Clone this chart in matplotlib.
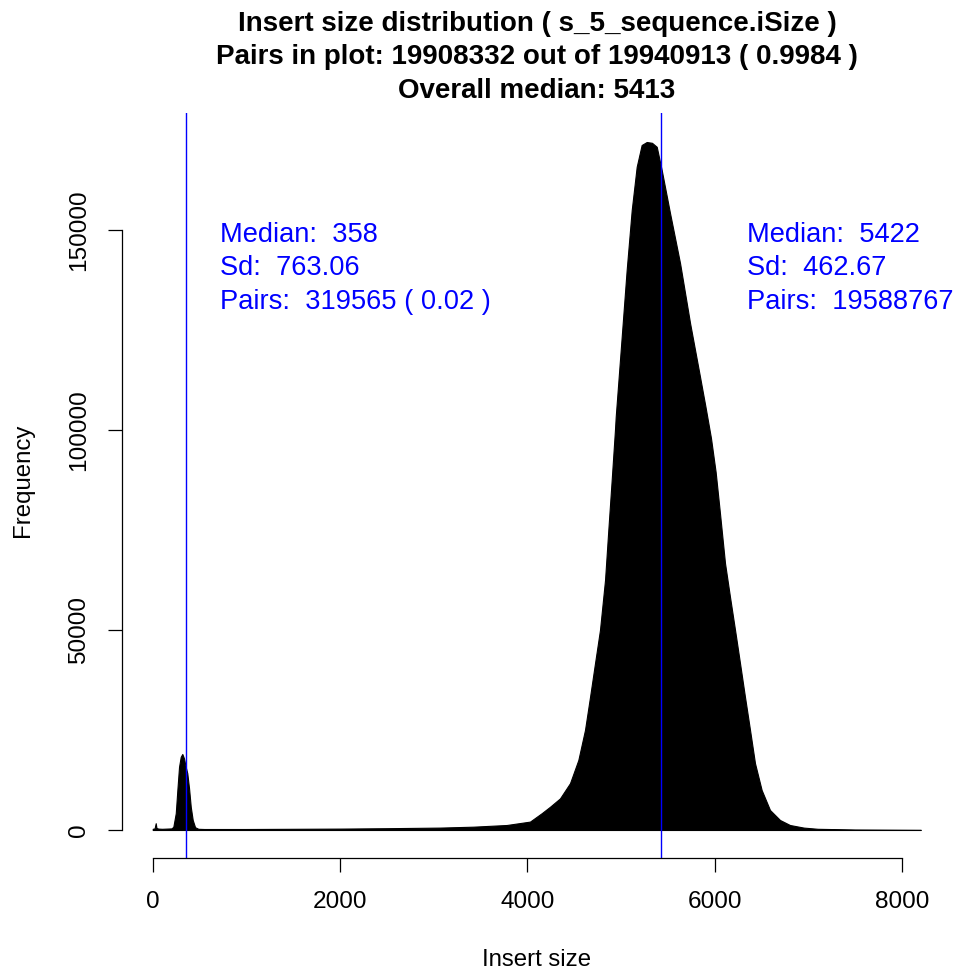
import matplotlib
matplotlib.use("Agg")
import matplotlib.pyplot as plt

plt.rcParams['font.family'] = ['Liberation Sans', 'DejaVu Sans']

# envelope of the insert size histogram (insert size, frequency)
insert_size = [0, 20, 32, 40, 60, 100, 150, 200, 220, 246, 263, 281, 299, 316, 334, 352,
               369, 388, 406, 427, 452, 487, 550, 1000, 1500, 2000, 2500, 3067, 3423,
               3779, 4028, 4153, 4241, 4348, 4455, 4544, 4615, 4669, 4722, 4775, 4829,
               4864, 4900, 4935, 4943, 5007, 5060, 5114, 5167, 5220, 5274, 5330, 5381,
               5434, 5523, 5630, 5737, 5843, 5900, 5960, 6010, 6056, 6110, 6163, 6217,
               6270, 6323, 6377, 6430, 6501, 6590, 6697, 6803, 6950, 7100, 7500, 8000, 8200]
frequency = [300, 400, 1700, 500, 350, 300, 350, 400, 800, 4200, 10000, 15800, 18300, 19000,
             17900, 15800, 14200, 10400, 5800, 2500, 700, 300, 250, 250, 300, 350, 450, 600,
             830, 1250, 2100, 4200, 5800, 7900, 11700, 17500, 25000, 33300, 41700, 50000,
             62500, 75000, 87500, 100000, 103300, 123300, 140000, 155000, 165800, 171250,
             172000, 171800, 170800, 165000, 154200, 141700, 126700, 113300, 106000, 98000,
             89500, 79200, 66700, 58300, 50000, 41700, 33300, 25000, 16700, 10000, 5000,
             2500, 1250, 600, 300, 120, 60, 40]

medians = [358, 5422]
group_text = [
    ["Median:  358", "Sd:  763.06", "Pairs:  319565 ( 0.02 )"],
    ["Median:  5422", "Sd:  462.67", "Pairs:  19588767"],
]
text_x = [718, 6342]
text_y = [147075, 138750, 130250]

title_lines = [
    "Insert size distribution ( s_5_sequence.iSize )",
    "Pairs in plot: 19908332 out of 19940913 ( 0.9984 )",
    "Overall median: 5413",
]
xticks = [0, 2000, 4000, 6000, 8000]
yticks = [0, 50000, 100000, 150000]

W, H = 959, 973
fig = plt.figure(figsize=(W / 100, H / 100), dpi=100)
ax = fig.add_axes([122 / W, (H - 858) / H, (951.5 - 122) / W, (858 - 113) / H])

ax.fill_between(insert_size, frequency, 0, color='black', lw=0.8)
for m in medians:
    ax.axvline(m, color='#0000FF', lw=1)

for lines, tx in zip(group_text, text_x):
    for s, ty in zip(lines, text_y):
        ax.text(tx, ty, s, color='#0000FF', fontsize=19.6, ha='left', va='baseline', clip_on=False)

ax.set_xlim(-328, 8528)
ax.set_ylim(-7000, 179250)

for side in ['top', 'right']:
    ax.spines[side].set_visible(False)
ax.spines['bottom'].set_bounds(0, 8000)
ax.spines['left'].set_bounds(0, 150000)
ax.spines['bottom'].set_linewidth(0.9)
ax.spines['left'].set_linewidth(0.9)

ax.set_xticks(xticks)
ax.set_xticklabels([str(t) for t in xticks], fontsize=17.6)
ax.set_yticks(yticks)
ax.set_yticklabels([str(t) for t in yticks], fontsize=17.6, rotation=90, va='center')
ax.tick_params(axis='x', direction='out', length=10, width=0.9, pad=14)
ax.tick_params(axis='y', direction='out', length=10, width=0.9, pad=13)

fig.text(537 / W, 1 - 960 / H, "Insert size", ha='center', va='center', fontsize=17.3)
fig.text(23 / W, 1 - 480 / H, "Frequency", ha='center', va='center', fontsize=17.3, rotation=90)

for i, line in enumerate(title_lines):
    fig.text(537 / W, 1 - (30.7 + 33.5 * i) / H, line, ha='center', va='baseline',
             fontsize=20, fontweight='bold')

fig.savefig("out.png", dpi=100)
